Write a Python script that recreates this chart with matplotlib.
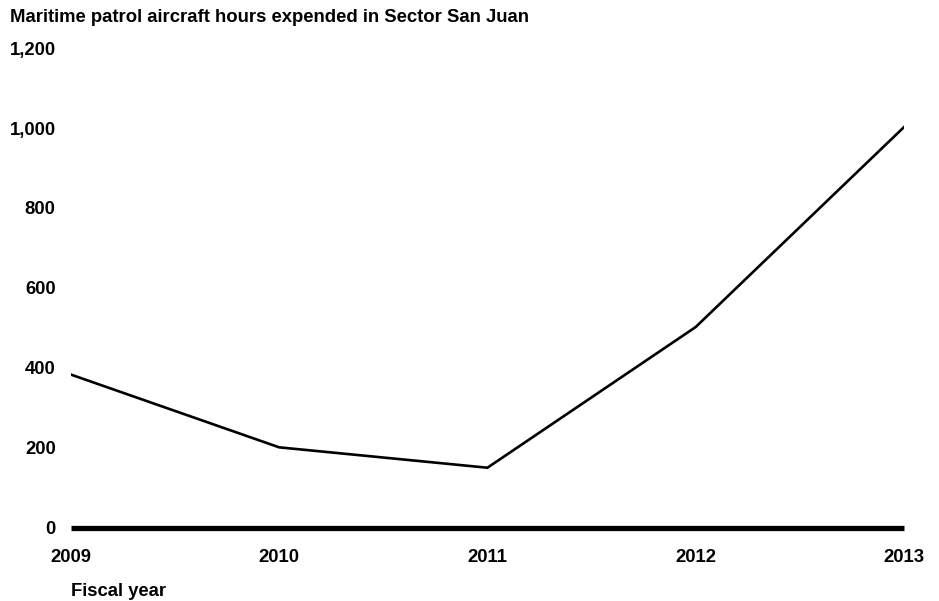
import matplotlib.pyplot as plt

# Maritime patrol aircraft hours, Sector San Juan
years = [2009, 2010, 2011, 2012, 2013]
hours = [383, 201, 150, 502, 1002]
y_ticks = [0, 200, 400, 600, 800, 1000, 1200]

plt.rcParams['font.family'] = ['Liberation Sans', 'DejaVu Sans']
FS = 13.3

fig = plt.figure(figsize=(9.39, 6.01), dpi=100)
ax = fig.add_axes([0.0756, 0.122, 0.887, 0.798])

ax.plot(years, hours, color='black', linewidth=1.9, solid_joinstyle='miter')
ax.axhline(0, color='black', linewidth=3.8, solid_capstyle='butt', clip_on=False)

ax.set_xlim(2009, 2013)
ax.set_ylim(0, 1200)
ax.set_xticks(years)
ax.set_xticklabels([str(y) for y in years], fontsize=FS, fontweight='bold')
ax.set_yticks(y_ticks)
ax.set_yticklabels([f'{v:,}' for v in y_ticks], fontsize=FS, fontweight='bold')
ax.tick_params(axis='both', length=0)
ax.tick_params(axis='y', pad=11)
ax.tick_params(axis='x', pad=15.5)

for side in ['top', 'right', 'left', 'bottom']:
    ax.spines[side].set_visible(False)

fig.text(10 / 939, 1 - 18 / 601, 'Maritime patrol aircraft hours expended in Sector San Juan',
         fontsize=FS, fontweight='bold', ha='left', va='center')
fig.text(71 / 939, 1 - 591 / 601, 'Fiscal year',
         fontsize=FS, fontweight='bold', ha='left', va='center')

fig.savefig('out.png', dpi=100)
